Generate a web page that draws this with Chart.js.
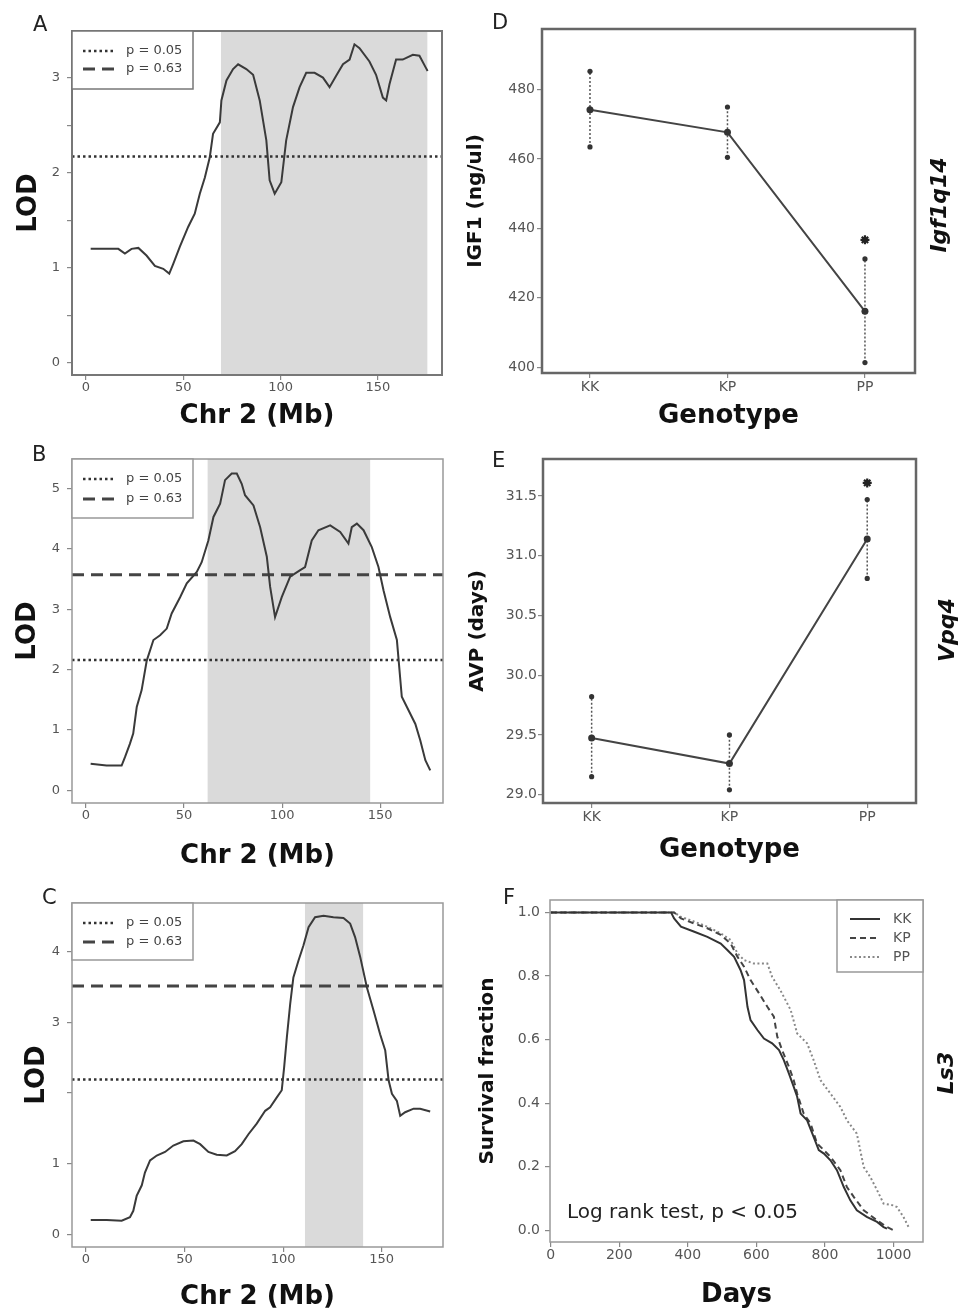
<!DOCTYPE html>
<html><head><meta charset="utf-8">
<script src="https://cdn.jsdelivr.net/npm/chart.js@4.4.1/dist/chart.umd.min.js"></script>
<style>
html,body{margin:0;padding:0;background:#fff}
body{position:relative;width:960px;height:1314px;overflow:hidden}
canvas{position:absolute;display:block}
.tag{position:absolute;font-family:"DejaVu Sans",sans-serif;font-size:21px;line-height:21px;color:#222}
</style></head><body>
<canvas id="cA" width="460" height="440" style="left:0;top:0"></canvas>
<canvas id="cB" width="460" height="440" style="left:0;top:440px"></canvas>
<canvas id="cC" width="460" height="434" style="left:0;top:880px"></canvas>
<canvas id="cD" width="500" height="440" style="left:460px;top:0"></canvas>
<canvas id="cE" width="500" height="440" style="left:460px;top:440px"></canvas>
<canvas id="cF" width="500" height="434" style="left:460px;top:880px"></canvas>
<div class="tag" style="left:33px;top:14px">A</div>
<div class="tag" style="left:32px;top:444px">B</div>
<div class="tag" style="left:42px;top:887px">C</div>
<div class="tag" style="left:492px;top:12px">D</div>
<div class="tag" style="left:492px;top:450px">E</div>
<div class="tag" style="left:503px;top:887px">F</div>
<script>
// ---------- DATA ----------
const chrTicks = [0, 50, 100, 150];

// Panel A (Igf1q14 LOD)
const mbA = [2.4,16.6,20,23.4,26.9,31.1,35.4,39.7,42.8,44.8,48.2,52.5,55.9,58.5,61.1,63.6,65.3,68.8,69.6,72.2,75.6,78.2,82.4,85.9,89.3,92.7,94.4,97,100.4,102.9,106.4,109.8,113.2,117.5,121.8,125.2,128.6,132.1,135.5,138,140.6,145.7,149.1,152.6,154.3,156,159.4,162.8,168,171.4,174.8,175.6];
const lodA = [1.20,1.20,1.15,1.20,1.21,1.13,1.02,0.99,0.94,1.04,1.22,1.43,1.57,1.78,1.95,2.16,2.41,2.53,2.76,2.97,3.09,3.14,3.09,3.03,2.76,2.34,1.92,1.78,1.90,2.34,2.69,2.90,3.05,3.05,3.00,2.90,3.02,3.14,3.19,3.35,3.31,3.17,3.03,2.79,2.76,2.93,3.19,3.19,3.24,3.23,3.10,3.07];
const lodTicksA = [0,0.5,1,1.5,2,2.5,3];
const shadeA = [69.3, 175.6];
const p05A = 2.17;

// Panel B (Vpq4 LOD)
const mbB = [2.4,10.5,18.2,19.9,22.4,24.1,25.9,28.4,31,34.4,37.8,41.2,43.7,48,51.4,56.5,59,62.4,65,68.4,70.9,74.3,76.9,79.4,81.1,85.4,88.8,92.2,93.9,96.4,99.8,104.1,109.2,111.7,115.1,118.5,124.5,129.6,133.8,135.5,138.1,141.5,145.7,149.1,151.7,155.1,158.5,161,163.6,167.9,170.4,173,175.5];
const lodB = [0.44,0.41,0.41,0.55,0.77,0.94,1.38,1.66,2.15,2.49,2.57,2.68,2.93,3.20,3.43,3.62,3.78,4.14,4.53,4.75,5.14,5.25,5.25,5.08,4.89,4.72,4.36,3.87,3.37,2.87,3.20,3.54,3.65,3.70,4.14,4.31,4.39,4.28,4.09,4.36,4.42,4.31,4.03,3.70,3.31,2.87,2.49,1.55,1.38,1.10,0.83,0.50,0.33];
const lodTicksB = [0,1,2,3,4,5];
const shadeB = [61.9, 145];
const p05B = 2.16, p63B = 3.57;

// Panel C (Ls3 LOD)
const mbC = [2.4,10.5,18.1,22.3,24,25.7,28.3,29.9,32.5,35.9,40.1,44.3,49.4,54.5,57.9,62.1,66.3,71.4,75.6,79,82.4,86.6,90.9,93.4,96.8,99.3,100.5,101.9,103.6,105.2,107.8,110.3,112.9,116.2,120.5,125.5,130.6,134,136.5,139.1,142.5,145.9,149.2,151.8,153.5,155.2,157.7,159.4,161.9,166.2,169.5,174.6];
const lodC = [0.21,0.21,0.20,0.25,0.34,0.55,0.70,0.88,1.05,1.12,1.17,1.26,1.32,1.33,1.28,1.17,1.13,1.12,1.18,1.28,1.42,1.57,1.75,1.80,1.94,2.04,2.36,2.79,3.26,3.63,3.87,4.08,4.34,4.48,4.50,4.48,4.47,4.39,4.20,3.92,3.49,3.16,2.83,2.60,2.18,1.99,1.89,1.68,1.73,1.78,1.78,1.74];
const lodTicksC = [0,1,2,3,4];
const lodLabelsC = [0,1,3,4];
const shadeC = [111, 140.7];
const p05C = 2.19, p63C = 3.51;

// Panels D / E
const genotypes = ['KK','KP','PP'];
const igf1Mean  = [474.2, 467.7, 416.1];
const igf1Upper = [485.3, 475.0, 431.2];
const igf1Lower = [463.5, 460.5, 401.3];
const igf1Star  = 436.7;
const igf1Ticks = [400, 420, 440, 460, 480];
const avpMean  = [29.475, 29.26, 31.14];
const avpUpper = [29.82, 29.50, 31.47];
const avpLower = [29.15, 29.04, 30.81];
const avpStar  = 31.61;
const avpTicks = [29.0, 29.5, 30.0, 30.5, 31.0, 31.5];

// Panel F (survival)
const daysKK = [0,351,360,380,419,457,496,516,535,554,564,569,574,583,603,622,646,666,680,695,709,719,729,748,767,782,797,816,835,855,874,893,922,952,971,981];
const survKK = [1,1,0.981,0.955,0.939,0.923,0.902,0.881,0.860,0.818,0.787,0.745,0.703,0.661,0.630,0.603,0.588,0.567,0.535,0.493,0.451,0.420,0.367,0.346,0.294,0.252,0.241,0.220,0.189,0.136,0.094,0.063,0.042,0.026,0.010,0.005];
const daysKP = [0,360,380,419,457,496,525,545,564,583,608,632,651,661,675,695,709,719,738,758,777,797,816,845,864,884,913,952,981,1000];
const survKP = [1,1,0.981,0.965,0.950,0.929,0.902,0.860,0.829,0.787,0.745,0.703,0.672,0.609,0.567,0.514,0.472,0.430,0.367,0.336,0.273,0.252,0.231,0.189,0.136,0.105,0.063,0.031,0.010,0.0];
const daysPP = [0,360,380,419,457,496,525,545,564,593,632,646,670,700,719,748,767,787,816,845,864,893,913,932,952,971,1000,1010,1029,1044];
const survPP = [1,1,0.986,0.971,0.955,0.934,0.913,0.871,0.850,0.839,0.839,0.797,0.755,0.693,0.619,0.588,0.535,0.472,0.430,0.388,0.346,0.304,0.199,0.168,0.126,0.084,0.078,0.073,0.042,0.010];
const dayTicks = [0, 200, 400, 600, 800, 1000];
const survTicks = [0, 0.2, 0.4, 0.6, 0.8, 1.0];

// ---------- PLUGINS ----------
Chart.defaults.font.family = '"DejaVu Sans", sans-serif';
const framePlugin = {
  id: 'frame', defaults: { color: '#888', width: 2 },
  afterDatasetsDraw(chart, args, o) {
    const a = chart.chartArea, c = chart.ctx;
    c.save(); c.strokeStyle = o.color; c.lineWidth = o.width;
    c.strokeRect(a.left, a.top, a.right - a.left, a.bottom - a.top); c.restore();
  }
};
const boxLegend = {
  id: 'boxLegend', defaults: {},
  afterDraw(chart, args, o) {
    if (!o.box) return;
    const c = chart.ctx, b = o.box;
    c.save();
    c.fillStyle = '#fff'; c.fillRect(b[0], b[1], b[2]-b[0], b[3]-b[1]);
    c.strokeStyle = o.boxColor || '#777'; c.lineWidth = o.boxWidth || 1.5;
    c.strokeRect(b[0], b[1], b[2]-b[0], b[3]-b[1]);
    const items = chart.data.datasets.filter(d => d.legendText);
    items.forEach((d, i) => {
      const y = o.rows[i];
      c.strokeStyle = d.borderColor; c.lineWidth = d.borderWidth;
      c.setLineDash(d.borderDash || []);
      c.beginPath(); c.moveTo(o.sx[0], y); c.lineTo(o.sx[1], y); c.stroke();
      c.setLineDash([]);
      c.fillStyle = o.textColor || '#444'; c.font = o.font; c.textBaseline = 'middle'; c.textAlign = 'left';
      c.fillText(d.legendText, o.tx, y);
    });
    c.restore();
  }
};
const textPlugin = {
  id: 'texts', defaults: { items: [] },
  afterDraw(chart, args, o) {
    const c = chart.ctx;
    (o.items || []).forEach(t => {
      c.save(); c.translate(t.x, t.y); c.rotate(t.rot || 0);
      c.font = t.font; c.fillStyle = t.color || '#111';
      c.textAlign = t.align || 'center'; c.textBaseline = t.baseline || 'middle';
      c.fillText(t.text, 0, 0); c.restore();
    });
  }
};
Chart.register(framePlugin, boxLegend, textPlugin);

function setTicks(vals) { return s => { s.ticks = vals.map(v => ({ value: v })); }; }

function axisCommon(tickFont, tickPad) {
  return {
    grid: { drawOnChartArea: false, drawTicks: true, tickLength: 5, tickColor: '#888', lineWidth: 1.2 },
    border: { display: false },
    ticks: { font: { size: tickFont }, color: '#555', padding: tickPad, autoSkip: false, maxRotation: 0 }
  };
}

function lodChart(id, o) {
  const ds = [
    { label: 'LOD', data: o.mb.map((x, i) => ({ x, y: o.lod[i] })), borderColor: '#3a3a3a', borderWidth: 2, pointRadius: 0, tension: 0, order: 1 },
    { label: 'p05', legendText: 'p = 0.05', data: [{ x: o.xr[0], y: o.p05 }, { x: o.xr[1], y: o.p05 }], borderColor: '#333', borderWidth: 2.5, borderDash: [2.5, 3], pointRadius: 0, order: 2 },
    { label: 'p63', legendText: 'p = 0.63', data: o.p63 == null ? [] : [{ x: o.xr[0], y: o.p63 }, { x: o.xr[1], y: o.p63 }], borderColor: '#444', borderWidth: 3, borderDash: [12, 7], pointRadius: 0, order: 2 },
    { label: 'shade', data: [{ x: o.shade[0], y: o.yr[1] }, { x: o.shade[1], y: o.yr[1] }], fill: 'start', backgroundColor: '#dadada', borderWidth: 0, pointRadius: 0, order: 10 }
  ];
  const xa = axisCommon(13, 0), ya = axisCommon(13, 7);
  xa.ticks.callback = v => String(v);
  ya.ticks.callback = v => o.yl.includes(v) ? String(v) : '';
  return new Chart(document.getElementById(id), {
    type: 'line',
    data: { datasets: ds },
    options: {
      responsive: false, animation: false, events: [],
      layout: { padding: o.pad },
      plugins: {
        legend: { display: false }, tooltip: { enabled: false },
        frame: { color: o.frameColor, width: o.frameWidth },
        boxLegend: { box: o.leg.box, rows: o.leg.rows, sx: [83, 115], tx: 126, font: '13px "DejaVu Sans"', textColor: '#444', boxColor: o.frameColor, boxWidth: 1.5 }
      },
      scales: {
        x: Object.assign(xa, {
          type: 'linear', min: o.xr[0], max: o.xr[1],
          afterBuildTicks: setTicks(chrTicks),
          afterFit: s => { s.height = o.xh; },
          title: { display: true, text: 'Chr 2 (Mb)', color: '#111', font: { size: 26, weight: 'bold' }, padding: { top: 0, bottom: o.xtp } }
        }),
        y: Object.assign(ya, {
          type: 'linear', min: o.yr[0], max: o.yr[1],
          afterBuildTicks: setTicks(o.yt),
          afterFit: s => { s.width = o.yw; },
          title: { display: true, text: 'LOD', color: '#111', font: { size: 26, weight: 'bold' }, padding: { top: o.ytp, bottom: 0 } }
        })
      }
    }
  });
}

lodChart('cA', { mb: mbA, lod: lodA, xr: [-7.2, 183], yr: [-0.126, 3.49], yt: lodTicksA, yl: [0, 1, 2, 3], shade: shadeA, p05: p05A, p63: null,
  pad: { left: 0, top: 31, right: 18, bottom: 0 }, xh: 65, yw: 72, xtp: 8.4, ytp: 14, frameColor: '#777', frameWidth: 2,
  leg: { box: [72, 31, 193, 89], rows: [51, 69] } });

lodChart('cB', { mb: mbB, lod: lodB, xr: [-7.1, 182], yr: [-0.21, 5.49], yt: lodTicksB, yl: lodTicksB, shade: shadeB, p05: p05B, p63: p63B,
  pad: { left: 0, top: 19, right: 17, bottom: 0 }, xh: 77, yw: 72, xtp: 8.4, ytp: 13, frameColor: '#999', frameWidth: 1.5,
  leg: { box: [72, 19, 193, 78], rows: [39, 59] } });

lodChart('cC', { mb: mbC, lod: lodC, xr: [-7.1, 181.1], yr: [-0.17, 4.68], yt: lodTicksC, yl: lodLabelsC, shade: shadeC, p05: p05C, p63: p63C,
  pad: { left: 0, top: 23, right: 17, bottom: 0 }, xh: 67, yw: 72, xtp: 1.4, ytp: 22, frameColor: '#999', frameWidth: 1.5,
  leg: { box: [72, 23, 193, 80], rows: [43, 62] } });

function genoChart(id, o) {
  const err = [];
  genotypes.forEach((g, i) => { err.push({ x: i, y: o.lo[i] }, { x: i, y: o.hi[i] }, { x: i, y: null }); });
  const xa = axisCommon(14, 1), ya = axisCommon(14, o.ytpad);
  xa.ticks.callback = v => genotypes[v] || '';
  ya.ticks.callback = o.yfmt;
  return new Chart(document.getElementById(id), {
    type: 'line',
    data: { datasets: [
      { label: 'err', data: err, borderColor: '#555', borderWidth: 1.5, borderDash: [2, 2], pointRadius: 2.6, pointBackgroundColor: '#333', pointBorderWidth: 0, spanGaps: false, order: 2 },
      { label: 'mean', data: o.mean.map((y, i) => ({ x: i, y })), borderColor: '#444', borderWidth: 2, pointRadius: 3.5, pointBackgroundColor: '#333', pointBorderWidth: 0, order: 1 },
      { label: 'sig', data: [{ x: 2, y: o.star }], showLine: false, pointStyle: 'star', pointRadius: 4.5, borderColor: '#222', borderWidth: 2.2, order: 0 }
    ] },
    options: {
      responsive: false, animation: false, events: [],
      layout: { padding: o.pad },
      plugins: {
        legend: { display: false }, tooltip: { enabled: false },
        frame: { color: '#666', width: 2.5 },
        texts: { items: [{ text: o.side, x: o.sidePos[0], y: o.sidePos[1], rot: -Math.PI / 2, font: 'italic bold 22px "DejaVu Sans"', color: '#111' }] }
      },
      scales: {
        x: Object.assign(xa, {
          type: 'linear', min: o.xr[0], max: o.xr[1],
          afterBuildTicks: setTicks([0, 1, 2]),
          afterFit: s => { s.height = o.xh; },
          title: { display: true, text: 'Genotype', color: '#111', font: { size: 26, weight: 'bold' }, padding: { top: 0, bottom: o.xtp } }
        }),
        y: Object.assign(ya, {
          type: 'linear', min: o.yr[0], max: o.yr[1],
          afterBuildTicks: setTicks(o.yt),
          afterFit: s => { s.width = o.yw; },
          title: { display: true, text: o.ytitle, color: '#111', font: { size: 20, weight: 'bold' }, padding: { top: o.ytp, bottom: 0 } }
        })
      }
    }
  });
}
genoChart('cD', { mean: igf1Mean, hi: igf1Upper, lo: igf1Lower, star: igf1Star, xr: [-0.349, 2.364], yr: [398.3, 497.5], yt: igf1Ticks, yfmt: v => String(v),
  pad: { left: 0, top: 29, right: 45, bottom: 0 }, xh: 67, yw: 82, xtp: 7.9, ytp: 4, ytpad: 2, ytitle: 'IGF1 (ng/ul)', side: 'Igf1q14', sidePos: [480, 205] });

genoChart('cE', { mean: avpMean, hi: avpUpper, lo: avpLower, star: avpStar, xr: [-0.353, 2.354], yr: [28.93, 31.81], yt: avpTicks, yfmt: v => v.toFixed(1),
  pad: { left: 0, top: 19, right: 44, bottom: 0 }, xh: 77, yw: 83, xtp: 13.7, ytp: 5.5, ytpad: 1, ytitle: 'AVP (days)', side: 'Vpq4', sidePos: [488, 190] });

// Panel F
const mk = (d, s) => d.map((x, i) => ({ x, y: s[i] }));
const xaF = axisCommon(14, 0), yaF = axisCommon(14, 5);
xaF.ticks.callback = v => String(v);
yaF.ticks.callback = v => v.toFixed(1);
new Chart(document.getElementById('cF'), {
  type: 'line',
  data: { datasets: [
    { label: 'KK', legendText: 'KK', data: mk(daysKK, survKK), borderColor: '#333', borderWidth: 2, pointRadius: 0 },
    { label: 'KP', legendText: 'KP', data: mk(daysKP, survKP), borderColor: '#444', borderWidth: 2, borderDash: [6, 4], pointRadius: 0 },
    { label: 'PP', legendText: 'PP', data: mk(daysPP, survPP), borderColor: '#888', borderWidth: 2, borderDash: [2, 2.5], pointRadius: 0 }
  ] },
  options: {
    responsive: false, animation: false, events: [],
    layout: { padding: { left: 0, top: 20, right: 37, bottom: 0 } },
    plugins: {
      legend: { display: false }, tooltip: { enabled: false },
      frame: { color: '#999', width: 1.5 },
      boxLegend: { box: [377, 20, 463, 92], rows: [39, 58, 77], sx: [390, 420], tx: 433, font: '14px "DejaVu Sans"', textColor: '#555', boxColor: '#999', boxWidth: 1.5 },
      texts: { items: [
        { text: 'Ls3', x: 487, y: 193, rot: -Math.PI / 2, font: 'italic bold 22px "DejaVu Sans"', color: '#111' },
        { text: 'Log rank test, p < 0.05', x: 107, y: 338, align: 'left', baseline: 'alphabetic', font: '20px "DejaVu Sans"', color: '#222' }
      ] }
    },
    scales: {
      x: Object.assign(xaF, {
        type: 'linear', min: -2, max: 1086,
        afterBuildTicks: setTicks(dayTicks),
        afterFit: s => { s.height = 72; },
        title: { display: true, text: 'Days', color: '#111', font: { size: 26, weight: 'bold' }, padding: { top: 0, bottom: 3.4 } }
      }),
      y: Object.assign(yaF, {
        type: 'linear', min: -0.037, max: 1.039,
        afterBuildTicks: setTicks(survTicks),
        afterFit: s => { s.width = 90; },
        title: { display: true, text: 'Survival fraction', color: '#111', font: { size: 20, weight: 'bold' }, padding: { top: 15.5, bottom: 0 } }
      })
    }
  }
});
</script>
</body></html>
